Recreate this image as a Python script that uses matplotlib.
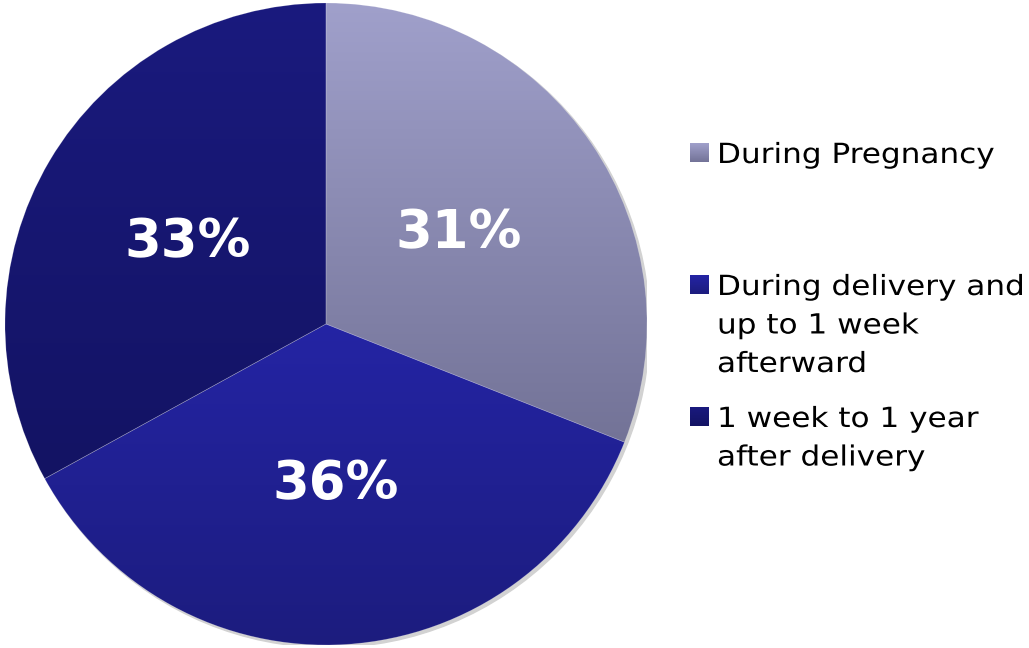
import numpy as np
import matplotlib
matplotlib.use("Agg")
import matplotlib.pyplot as plt
from matplotlib.colors import LinearSegmentedColormap
from matplotlib.patheffects import AbstractPathEffect
from matplotlib.transforms import Affine2D

labels = ["During Pregnancy",
          "During delivery and\nup to 1 week\nafterward",
          "1 week to 1 year\nafter delivery"]
values = [31, 36, 33]
# top / bottom colours of each slice gradient
tops = ["#a0a0cb", "#2424a4", "#1a1a7e"]
bottoms = ["#737397", "#1c1c7e", "#131363"]

W, H = 1029, 648
plt.rcParams["font.family"] = ["DejaVu Sans"]


class Stretch(AbstractPathEffect):
    """Widen glyphs horizontally around a fixed x (display pixels)."""
    def __init__(self, x0, sx):
        super().__init__()
        self.x0, self.sx = x0, sx

    def draw_path(self, renderer, gc, tpath, affine, rgbFace=None):
        aff = affine + Affine2D().translate(-self.x0, 0).scale(self.sx, 1).translate(self.x0, 0)
        renderer.draw_path(gc, tpath, aff, rgbFace)


fig = plt.figure(figsize=(W / 100, H / 100), dpi=100)
ax = fig.add_axes([5 / W, 3 / H, 642 / W, 642 / H])
ax.axis("off")

# faint shadow under the pie
ax.add_patch(plt.Circle((0.008, -0.008), 1.0, color="#d2d2d2", zorder=0))

wedges, texts, autotexts = ax.pie(
    values, startangle=90, counterclock=False, radius=1.0,
    autopct="%d%%", pctdistance=0.5,
    wedgeprops=dict(edgecolor=(1, 1, 1, 0.22), linewidth=0.5),
    textprops=dict(color="white", fontsize=38, fontweight="bold"))

for w, t, b in zip(wedges, tops, bottoms):
    ext = w.get_path().get_extents()
    cmap = LinearSegmentedColormap.from_list("g", [b, t])
    grad = np.linspace(0, 1, 256).reshape(-1, 1)
    im = ax.imshow(grad, cmap=cmap, origin="lower", aspect="auto",
                   extent=[ext.x0, ext.x1, ext.y0, ext.y1], zorder=1)
    im.set_clip_path(w)
    w.set_facecolor("none")
    w.set_zorder(2)
for t in autotexts:
    t.set_zorder(3)

ax.set_aspect("equal")
ax.set_xlim(-1.0, 1.0)
ax.set_ylim(-1.0, 1.0)

# legend: gradient squares plus text, one line at a time
baselines = [163, 295, 427]
line_step = 38.5
for lab, y, t, b in zip(labels, baselines, tops, bottoms):
    size = 19
    box = fig.add_axes([690 / W, (H - y + 1) / H, size / W, size / H])
    cmap = LinearSegmentedColormap.from_list("g", [b, t])
    box.imshow(np.linspace(0, 1, 64).reshape(-1, 1), cmap=cmap, origin="lower",
               aspect="auto")
    box.axis("off")
    for i, line in enumerate(lab.split("\n")):
        fig.text(717 / W, (H - y - i * line_step) / H, line, fontsize=20,
                 color="black", va="baseline", ha="left",
                 path_effects=[Stretch(717, 1.12)])

fig.savefig("out.png", dpi=100)
